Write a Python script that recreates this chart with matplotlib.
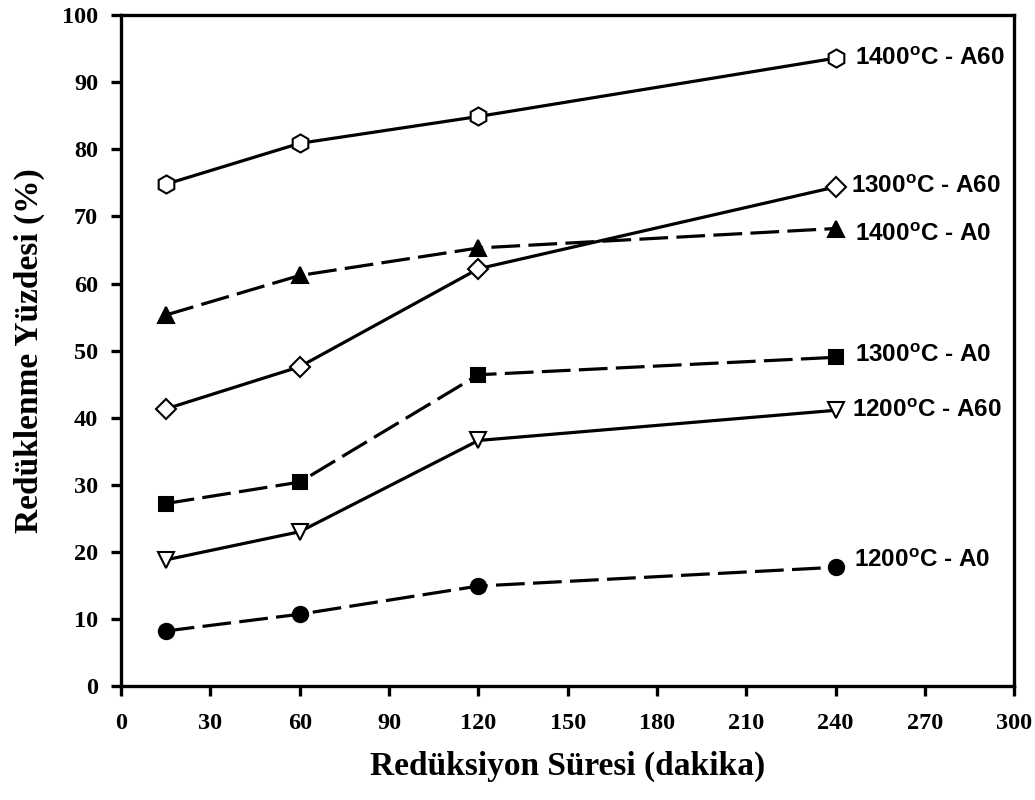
import matplotlib
matplotlib.use("Agg")
import matplotlib.pyplot as plt

# reduction time (min)
sure = [15, 60, 120, 240]

# reduction percentage for each temperature / additive
y_1400_A60 = [74.8, 80.9, 84.9, 93.6]
y_1300_A60 = [41.3, 47.6, 62.2, 74.4]
y_1400_A0 = [55.3, 61.2, 65.3, 68.2]
y_1300_A0 = [27.2, 30.4, 46.4, 49.0]
y_1200_A60 = [18.8, 23.0, 36.6, 41.1]
y_1200_A0 = [8.2, 10.7, 14.9, 17.7]

etiketler = ["1400", "1300", "1400", "1300", "1200", "1200"]
katki = ["A60", "A60", "A0", "A0", "A60", "A0"]

plt.rcParams['mathtext.fontset'] = 'custom'
plt.rcParams['mathtext.rm'] = 'Liberation Sans:bold'

fig = plt.figure(figsize=(10.35, 8), dpi=100)
ax = fig.add_axes([0.117, 0.1425, 0.863, 0.8385])

lw = 2.3
dash = (9, 2.6)
# series: data, marker, face, size, dashed?, label y-offset (points), label x-offset
seriler = [
    (y_1400_A60, 'h', 'white', 13, False, 0, 14),
    (y_1300_A60, 'D', 'white', 10, False, 0, 11),
    (y_1400_A0, '^', 'black', 12, True, -4, 14),
    (y_1300_A0, 's', 'black', 10.5, True, 1, 14),
    (y_1200_A60, 'v', 'white', 12, False, 0, 12),
    (y_1200_A0, 'o', 'black', 11, True, 5, 13),
]

for (vals, mk, fc, ms, dashed, dy, dx), t, k in zip(seriler, etiketler, katki):
    line, = ax.plot(sure, vals, color='black', lw=lw, marker=mk, ms=ms,
                    mfc=fc, mec='black', mew=1.5)
    if dashed:
        line.set_dashes(dash)
    ax.annotate(t + r'$^{\mathrm{o}}$C - ' + k, xy=(sure[-1], vals[-1]),
                xytext=(dx, dy), textcoords='offset points',
                ha='left', va='center', fontsize=17.5, fontweight='bold',
                family='Liberation Sans')

ax.set_xlim(0, 300)
ax.set_ylim(0, 100)
ax.set_xticks(range(0, 301, 30))
ax.set_yticks(range(0, 101, 10))

for s in ax.spines.values():
    s.set_linewidth(2.4)

ax.tick_params(direction='out', length=7.5, width=2.4, labelsize=17.5)
ax.tick_params(axis='x', pad=12)
ax.tick_params(axis='y', pad=9)
for lab in ax.get_xticklabels() + ax.get_yticklabels():
    lab.set_fontweight('bold')
    lab.set_family('Liberation Serif')

ax.set_xlabel('Redüksiyon Süresi (dakika)', fontsize=24, fontweight='bold',
              family='Liberation Serif', labelpad=12)
ax.set_ylabel('Redüklenme Yüzdesi (%)', fontsize=24, fontweight='bold',
              family='Liberation Serif', labelpad=12)

fig.savefig('out.png', dpi=100)
